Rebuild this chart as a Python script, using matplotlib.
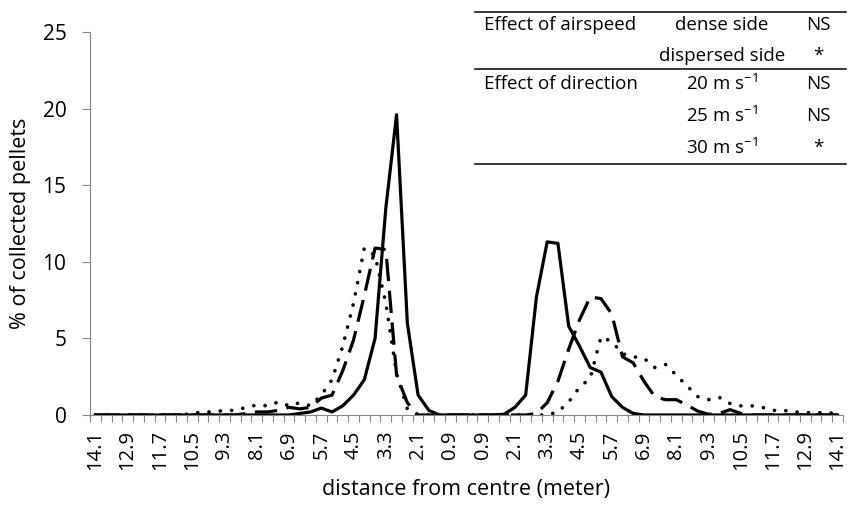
import numpy as np
import matplotlib
matplotlib.use("Agg")
import matplotlib.pyplot as plt
from matplotlib.lines import Line2D

plt.rcParams['font.family'] = ['Open Sans', 'DejaVu Sans']
plt.rcParams['mathtext.fontset'] = 'custom'
plt.rcParams['mathtext.rm'] = 'Open Sans'

# distance categories (m): dense side on the left, dispersed side on the right
distance = [14.1, 13.7, 13.3, 12.9, 12.5, 12.1, 11.7, 11.3, 10.9, 10.5,
            10.1, 9.7, 9.3, 8.9, 8.5, 8.1, 7.7, 7.3, 6.9, 6.5,
            6.1, 5.7, 5.3, 4.9, 4.5, 4.1, 3.7, 3.3, 2.9, 2.5,
            2.1, 1.7, 1.3, 0.9, 0.5,
            0.5, 0.9, 1.3, 1.7, 2.1, 2.5, 2.9, 3.3, 3.7, 4.1,
            4.5, 4.9, 5.3, 5.7, 6.1, 6.5, 6.9, 7.3, 7.7, 8.1,
            8.5, 8.9, 9.3, 9.7, 10.1, 10.5, 10.9, 11.3, 11.7, 12.1,
            12.5, 12.9, 13.3, 13.7, 14.1]
tick_labels = ['14.1', '12.9', '11.7', '10.5', '9.3', '8.1', '6.9', '5.7', '4.5',
               '3.3', '2.1', '0.9', '0.9', '2.1', '3.3', '4.5', '5.7', '6.9',
               '8.1', '9.3', '10.5', '11.7', '12.9', '14.1']

# % of collected pellets
solid = [0, 0, 0, 0, 0, 0, 0, 0, 0, 0,
         0, 0, 0, 0, 0, 0, 0, 0, 0, 0.1,
         0.2, 0.45, 0.2, 0.6, 1.3, 2.3, 5.0, 13.5, 19.6, 6.0,
         1.3, 0.3, 0, 0, 0,
         0, 0, 0, 0.05, 0.5, 1.3, 7.7, 11.3, 11.2, 5.8,
         4.5, 3.1, 2.8, 1.2, 0.5, 0.1, 0, 0, 0, 0,
         0, 0, 0, 0, 0, 0, 0, 0, 0, 0,
         0, 0, 0, 0, 0]
dashed = [0, 0, 0, 0, 0, 0, 0, 0, 0, 0,
          0, 0, 0, 0, 0.1, 0.2, 0.2, 0.3, 0.5, 0.4,
          0.5, 1.1, 1.3, 2.9, 4.9, 7.8, 10.9, 10.8, 2.6, 0.8,
          0, 0, 0, 0, 0,
          0, 0, 0, 0, 0, 0, 0.1, 0.8, 2.2, 4.3,
          6.2, 7.7, 7.6, 6.6, 3.8, 3.4, 2.2, 1.2, 1.0, 1.0,
          0.65, 0.25, 0.05, 0.1, 0.35, 0.1, 0, 0, 0, 0,
          0, 0, 0, 0, 0]
dotted = [0, 0, 0, 0, 0, 0, 0, 0, 0, 0.1,
          0.2, 0.2, 0.3, 0.3, 0.5, 0.65, 0.6, 0.85, 0.6, 0.8,
          0.6, 1.3, 2.3, 4.5, 7.3, 10.9, 10.4, 7.3, 2.7, 0.4,
          0, 0, 0, 0, 0,
          0, 0, 0, 0, 0, 0, 0, 0, 0.2, 0.85,
          1.8, 2.4, 5.1, 4.8, 4.0, 3.8, 3.7, 3.1, 3.3, 2.6,
          1.9, 1.2, 1.0, 1.15, 0.75, 0.6, 0.6, 0.5, 0.3, 0.3,
          0.2, 0.15, 0.15, 0.15, 0.1]

W, H = 851, 514
fig = plt.figure(figsize=(W / 100, H / 100), dpi=100)
ax = fig.add_axes([90 / W, (H - 415) / H, 753 / W, 383 / H])

x = np.arange(len(distance))
ax.plot(x, solid, color='black', lw=2.3, solid_joinstyle='round')
ax.plot(x, dashed, color='black', lw=2.3, linestyle=(0, (7, 3)))
ax.plot(x, dotted, color='black', lw=2.6, linestyle=(0, (0.05, 3.1)),
        dash_capstyle='round')

ax.set_xlim(-0.5, len(distance) - 0.5)
ax.set_ylim(0, 25)
ax.set_yticks(range(0, 26, 5))
ax.set_xticks(x[::3])
ax.set_xticklabels(tick_labels, rotation=90, fontsize=14.5)
ax.set_xticks(np.arange(-0.5, len(distance), 1), minor=True)

grey = '#868686'
for side in ['top', 'right']:
    ax.spines[side].set_visible(False)
for side in ['left', 'bottom']:
    ax.spines[side].set_color(grey)
    ax.spines[side].set_linewidth(0.8)
ax.tick_params(axis='x', which='major', length=0, pad=11)
ax.tick_params(axis='x', which='minor', length=5, color=grey, width=0.8)
ax.tick_params(axis='y', length=6, color=grey, width=0.8, labelsize=15, pad=11)

ax.set_xlabel('distance from centre (meter)', fontsize=15.5, labelpad=6)
ax.set_ylabel('% of collected pellets', fontsize=15.5, labelpad=8)


def fx(px):
    return px / W


def fy(py):
    return 1 - py / H


# significance table in the top right corner
for ly in [12, 69, 164]:
    fig.add_artist(Line2D([fx(475), fx(846)], [fy(ly), fy(ly)], color='black', lw=1.1))

rows = [
    ('Effect of airspeed', 'dense side', 'NS', 25),
    ('', 'dispersed side', '*', 56),
    ('Effect of direction', '20 m s$^{-1}$', 'NS', 84),
    ('', '25 m s$^{-1}$', 'NS', 116),
    ('', '30 m s$^{-1}$', '*', 148),
]
for left, mid, right, ry in rows:
    if left:
        fig.text(fx(484), fy(ry), left, fontsize=13.5, va='center', ha='left')
    fig.text(fx(722), fy(ry), mid, fontsize=13.5, va='center', ha='center')
    fig.text(fx(818), fy(ry), right, fontsize=13.5, va='center', ha='center')

fig.savefig('out.png', dpi=100)
